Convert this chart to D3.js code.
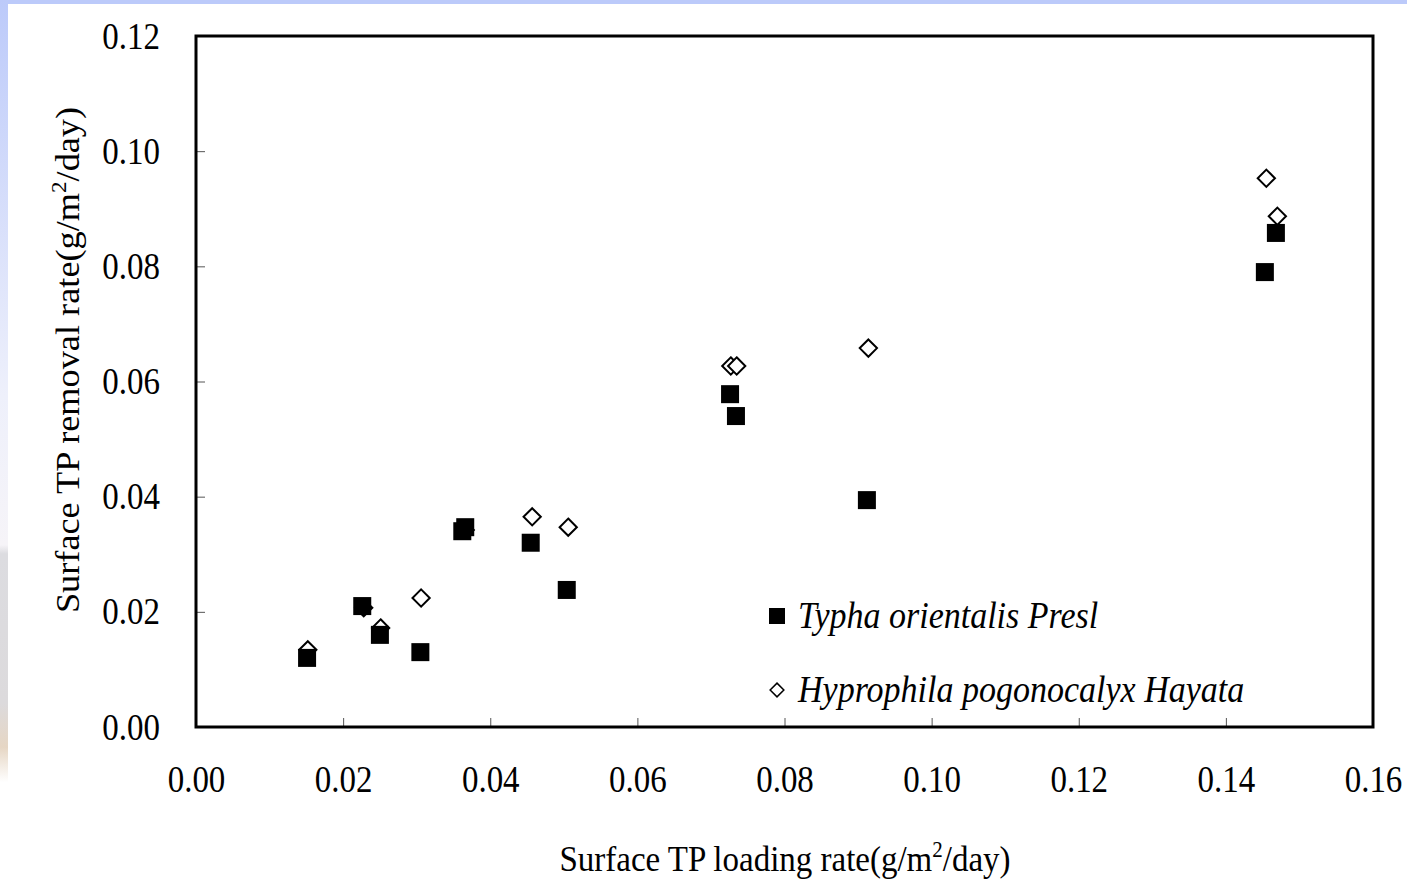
<!DOCTYPE html>
<html>
<head>
<meta charset="utf-8">
<script src="https://cdn.jsdelivr.net/npm/d3@7"></script>
<style>
  body { margin: 0; background: #ffffff; }
  svg text { font-family: "Liberation Serif", "Times New Roman", serif; fill: #000; }
</style>
</head>
<body>
<div id="chart"></div>
<script>
// loading rate (x) and removal rate (y), g/m2/day
var typhaX = [0.0151, 0.0226, 0.0250, 0.0305, 0.0362, 0.0366, 0.0455, 0.0504, 0.0726, 0.0734, 0.0912, 0.1453, 0.1468];
var typhaY = [0.0120, 0.0210, 0.0160, 0.0130, 0.0340, 0.0347, 0.0320, 0.0238, 0.0578, 0.0540, 0.0394, 0.0790, 0.0858];
var hypX = [0.0152, 0.0228, 0.0251, 0.0306, 0.0366, 0.0457, 0.0506, 0.0727, 0.0735, 0.0914, 0.1455, 0.1470];
var hypY = [0.0134, 0.0207, 0.0172, 0.0224, 0.0342, 0.0365, 0.0347, 0.0627, 0.0627, 0.0658, 0.0953, 0.0887];
var xTicks = [0, 0.02, 0.04, 0.06, 0.08, 0.10, 0.12, 0.14, 0.16];
var yTicks = [0, 0.02, 0.04, 0.06, 0.08, 0.10, 0.12];
var seriesNames = ['Typha orientalis Presl', 'Hyprophila pogonocalyx Hayata'];

var W = 1407, H = 879;
var margin = {top: 36, right: 34, bottom: 152, left: 196};
var innerW = W - margin.left - margin.right;
var innerH = H - margin.top - margin.bottom;

var svg = d3.select('#chart').append('svg')
    .attr('width', W)
    .attr('height', H);

// slide background: blue band top and left, photo strip on the left
var defs = svg.append('defs');
var grad = defs.append('linearGradient').attr('id', 'leftStrip')
    .attr('x1', 0).attr('y1', 0).attr('x2', 0).attr('y2', 1);
grad.append('stop').attr('offset', '0%').attr('stop-color', '#bccafa');
grad.append('stop').attr('offset', '45%').attr('stop-color', '#eef0fb');
grad.append('stop').attr('offset', '62%').attr('stop-color', '#f6f4f8');
grad.append('stop').attr('offset', '63%').attr('stop-color', '#dcdce0');
grad.append('stop').attr('offset', '80%').attr('stop-color', '#dcdadc');
grad.append('stop').attr('offset', '85%').attr('stop-color', '#e6d6c4');
grad.append('stop').attr('offset', '89%').attr('stop-color', '#ffffff');
svg.append('rect').attr('x', 0).attr('y', 0).attr('width', W).attr('height', 4).attr('fill', '#bccafa');
svg.append('rect').attr('x', 0).attr('y', 0).attr('width', 8).attr('height', H).attr('fill', 'url(#leftStrip)');

var x = d3.scaleLinear().domain([0, 0.16]).range([0, innerW]);
var y = d3.scaleLinear().domain([0, 0.12]).range([innerH, 0]);

var g = svg.append('g')
    .attr('transform', 'translate(' + margin.left + ',' + margin.top + ')');

// inner ticks
var xAxis = g.append('g')
    .attr('transform', 'translate(0,' + innerH + ')')
    .call(d3.axisBottom(x).tickValues(xTicks).tickSize(-9).tickFormat(d3.format('.2f')));
xAxis.select('.domain').remove();
xAxis.selectAll('line').attr('stroke', '#555').attr('stroke-width', 1);
xAxis.selectAll('text')
    .style('font-size', '33px')
    .attr('y', 0)
    .attr('dy', 0)
    .attr('transform', 'translate(0,65) scale(1,1.12)');

var yAxis = g.append('g')
    .call(d3.axisLeft(y).tickValues(yTicks).tickSize(-9).tickFormat(d3.format('.2f')));
yAxis.select('.domain').remove();
yAxis.selectAll('line').attr('stroke', '#555').attr('stroke-width', 1);
yAxis.selectAll('text')
    .style('font-size', '33px')
    .attr('x', 0)
    .attr('dy', 0)
    .attr('transform', 'translate(-36,12) scale(1,1.12)');

// plot frame
g.append('rect')
    .attr('width', innerW)
    .attr('height', innerH)
    .attr('fill', 'none')
    .attr('stroke', '#000')
    .attr('stroke-width', 3);

var diamond = d3.symbol().type(d3.symbolDiamond2).size(190);

// Hyprophila: open diamonds (drawn first, squares lie on top)
g.selectAll('.hyp')
    .data(d3.zip(hypX, hypY))
    .enter().append('path')
    .attr('class', 'hyp')
    .attr('d', diamond)
    .attr('transform', function(d) { return 'translate(' + x(d[0]) + ',' + y(d[1]) + ')'; })
    .attr('fill', '#fff')
    .attr('stroke', '#000')
    .attr('stroke-width', 2);

// Typha: filled squares
var sq = 18;
g.selectAll('.typha')
    .data(d3.zip(typhaX, typhaY))
    .enter().append('rect')
    .attr('class', 'typha')
    .attr('x', function(d) { return x(d[0]) - sq / 2; })
    .attr('y', function(d) { return y(d[1]) - sq / 2; })
    .attr('width', sq)
    .attr('height', sq)
    .attr('fill', '#000');

// legend
var legend = g.append('g').attr('transform', 'translate(' + (777 - margin.left) + ',' + (616 - margin.top) + ')');
legend.append('rect').attr('x', -8).attr('y', -8).attr('width', 16).attr('height', 16).attr('fill', '#000');
legend.append('path')
    .attr('d', d3.symbol().type(d3.symbolDiamond2).size(120))
    .attr('transform', 'translate(0,74)')
    .attr('fill', '#fff').attr('stroke', '#000').attr('stroke-width', 1.5);
legend.selectAll('text')
    .data(seriesNames)
    .enter().append('text')
    .attr('transform', function(d, i) { return 'translate(21,' + (12 + i * 74) + ') scale(1,1.1)'; })
    .style('font-size', '34px')
    .style('font-style', 'italic')
    .text(function(d) { return d; });

// axis titles
var xt = svg.append('text')
    .attr('transform', 'translate(785,871) scale(1,1.1)')
    .attr('text-anchor', 'middle')
    .style('font-size', '33px');
xt.append('tspan').text('Surface TP loading rate(g/m');
xt.append('tspan').attr('dy', -13).style('font-size', '21px').text('2');
xt.append('tspan').attr('dy', 13).text('/day)');

var yt = svg.append('text')
    .attr('transform', 'translate(79,360) rotate(-90) scale(1.1,1)')
    .attr('text-anchor', 'middle')
    .style('font-size', '33px');
yt.append('tspan').text('Surface TP removal rate(g/m');
yt.append('tspan').attr('dy', -13).style('font-size', '21px').text('2');
yt.append('tspan').attr('dy', 13).text('/day)');
</script>
</body>
</html>
